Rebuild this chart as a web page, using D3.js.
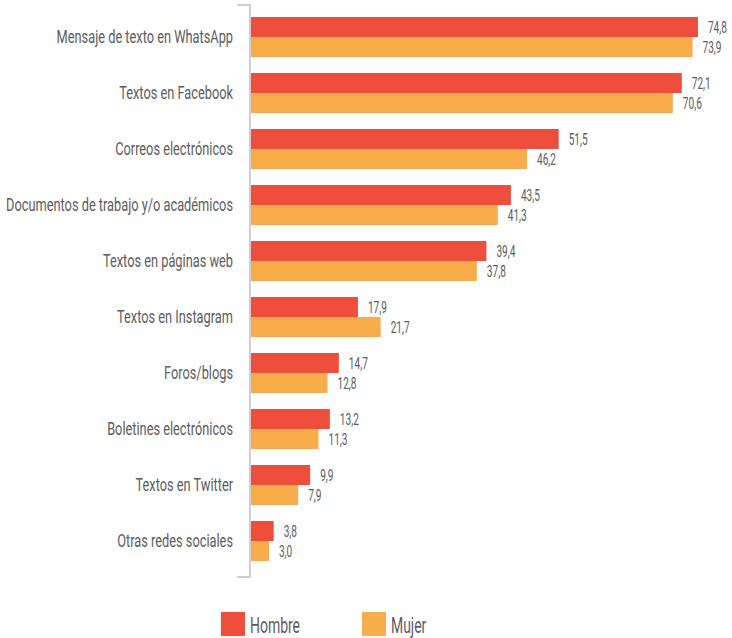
<!DOCTYPE html>
<html>
<head>
  <meta charset="utf-8">
  <title>Lectura por tipo de texto</title>
  <script src="https://d3js.org/d3.v7.min.js"></script>
  <style>
    body { margin: 0; background: #fff; }
    text {
      font-family: Roboto, "Liberation Sans", sans-serif;
      fill: #5b5c5e;
    }
    .cat { font-size: 18px; }
    .val { font-size: 16.5px; }
    .leg { font-size: 22px; }
  </style>
</head>
<body>
  <svg width="732" height="638"></svg>

  <script>
    // Datos
    var categorias = [
      "Mensaje de texto en WhatsApp",
      "Textos en Facebook",
      "Correos electrónicos",
      "Documentos de trabajo y/o académicos",
      "Textos en páginas web",
      "Textos en Instagram",
      "Foros/blogs",
      "Boletines electrónicos",
      "Textos en Twitter",
      "Otras redes sociales"
    ];
    var hombre = [74.8, 72.1, 51.5, 43.5, 39.4, 17.9, 14.7, 13.2, 9.9, 3.8];
    var mujer = [73.9, 70.6, 46.2, 41.3, 37.8, 21.7, 12.8, 11.3, 7.9, 3.0];
    var series = ["Hombre", "Mujer"];
    var colores = ["#ef4e3c", "#f9ac4a"];

    var data = categorias.map(function(c, i) {
      return { name: c, values: [hombre[i], mujer[i]] };
    });

    var svg = d3.select("svg");

    var y = d3.scaleBand()
      .domain(categorias)
      .range([5, 573])
      .paddingInner(16 / 56)
      .paddingOuter(12 / 56);

    var y1 = d3.scaleBand()
      .domain(series)
      .range([0, y.bandwidth()]);

    var x = d3.scaleLinear()
      .domain([0, 80])
      .range([251, 729]);

    var fmt = function(v) { return d3.format(".1f")(v).replace(".", ","); };

    // comprime el texto horizontalmente (fuente condensada)
    function condensar(sel, k) {
      sel.attr("transform", function() {
        var ax = +d3.select(this).attr("x");
        return "translate(" + ax + ",0) scale(" + k + ",1) translate(" + (-ax) + ",0)";
      });
    }

    // eje vertical (corchete)
    svg.append("path")
      .attr("d", "M237,5H250V577H237")
      .attr("fill", "none")
      .attr("stroke", "#cfcfcf")
      .attr("stroke-width", 2);

    var grupos = svg.selectAll(".grupo")
      .data(data)
      .enter()
      .append("g")
      .attr("class", "grupo")
      .attr("transform", function(d) { return "translate(0," + y(d.name) + ")"; });

    grupos.selectAll("rect")
      .data(function(d) { return d.values; })
      .enter()
      .append("rect")
      .attr("x", x(0))
      .attr("y", function(d, i) { return y1(series[i]); })
      .attr("width", function(d) { return x(d) - x(0); })
      .attr("height", y1.bandwidth())
      .attr("fill", function(d, i) { return colores[i]; });

    var cats = grupos.append("text")
      .attr("class", "cat")
      .attr("x", 233)
      .attr("y", y.bandwidth() / 2)
      .attr("dy", "0.35em")
      .attr("text-anchor", "end")
      .text(function(d) { return d.name; });

    var vals = grupos.selectAll(".val")
      .data(function(d) { return d.values; })
      .enter()
      .append("text")
      .attr("class", "val")
      .attr("x", function(d) { return x(d) + 10; })
      .attr("y", function(d, i) { return y1(series[i]) + y1.bandwidth() / 2; })
      .attr("dy", "0.35em")
      .text(fmt);

    // leyenda
    var legX = [221, 362];
    var leg = svg.selectAll(".legend")
      .data(series)
      .enter()
      .append("g")
      .attr("transform", function(d, i) { return "translate(" + legX[i] + ",612)"; });

    leg.append("rect")
      .attr("width", 24)
      .attr("height", 24)
      .attr("fill", function(d, i) { return colores[i]; });

    var legs = leg.append("text")
      .attr("class", "leg")
      .attr("x", 29)
      .attr("y", 13)
      .attr("dy", "0.36em")
      .text(function(d) { return d; });

    var kCat = 227 / cats.filter(function(d, i) { return i === 3; }).node().getComputedTextLength();
    condensar(cats, kCat);
    var kVal = 19 / vals.filter(function(d, i) { return d === 74.8; }).node().getComputedTextLength();
    condensar(vals, kVal);
    var kLeg = 50 / legs.filter(function(d, i) { return i === 0; }).node().getComputedTextLength();
    condensar(legs, kLeg);
  </script>
</body>
</html>
